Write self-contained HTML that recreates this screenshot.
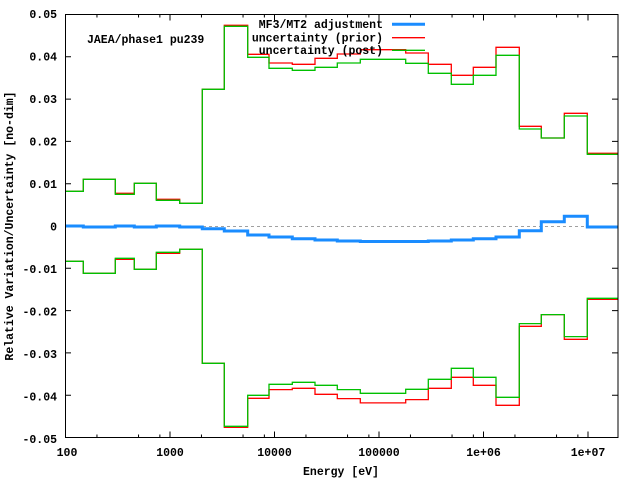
<!DOCTYPE html>
<html><head><meta charset="utf-8"><style>
html,body{margin:0;padding:0;background:#fff;}
svg{display:block;}
text{font-family:"Liberation Mono",monospace;font-weight:bold;font-size:11.5px;fill:#000;}
</style></head><body>
<svg id="s" width="640" height="480" xmlns="http://www.w3.org/2000/svg">
<rect width="640" height="480" fill="#fff"/>
<line x1="65" y1="226.5" x2="618" y2="226.5" stroke="#a0a0a0" stroke-dasharray="3,3" stroke-width="1"/>
<g id="ticks" stroke="#000" stroke-width="1"></g>
<g id="series" fill="none"></g>
<rect x="65.5" y="14.5" width="552.5" height="423" fill="none" stroke="#000" stroke-width="1"/>
<g text-anchor="end">
<text x="57" y="18">0.05</text>
<text x="57" y="60.5">0.04</text>
<text x="57" y="103">0.03</text>
<text x="57" y="145.5">0.02</text>
<text x="57" y="188">0.01</text>
<text x="57" y="230.5">0</text>
<text x="57" y="273">-0.01</text>
<text x="57" y="315.5">-0.02</text>
<text x="57" y="358">-0.03</text>
<text x="57" y="400.5">-0.04</text>
<text x="57" y="443">-0.05</text>
</g>
<g text-anchor="middle">
<text x="67" y="456">100</text>
<text x="170" y="456">1000</text>
<text x="274.5" y="456">10000</text>
<text x="379" y="456">100000</text>
<text x="483.5" y="456">1e+06</text>
<text x="588" y="456">1e+07</text>
<text x="341" y="475">Energy [eV]</text>
<text transform="translate(13,226) rotate(-90)">Relative Variation/Uncertainty [no-dim]</text>
</g>
<text x="87" y="43">JAEA/phase1 pu239</text>
<g text-anchor="end">
<text x="383" y="28">MF3/MT2 adjustment</text>
<text x="383" y="41.5">uncertainty (prior)</text>
<text x="383" y="54">uncertainty (post)</text>
</g>
<line x1="392" y1="24.3" x2="425" y2="24.3" stroke="#1a8cff" stroke-width="3"/>
<line x1="392" y1="37.7" x2="425" y2="37.7" stroke="#ff0000" stroke-width="1.3"/>
<line x1="392" y1="50.3" x2="425" y2="50.3" stroke="#00c000" stroke-width="1.3"/>
</svg>
<script>
var E=[65.7,83.3,115.3,134.3,156.3,179.7,202.3,224.3,247.7,269,292.3,315,337.3,360.3,383,405.7,428.3,451.3,473.3,496,519.3,541.3,564.3,587.3,618];
var R=[191.3,179.3,193.3,183.3,199.3,203.3,89.3,25.3,54.3,63,64.3,58.3,54,49.7,49.7,53,64.3,75.3,67.3,47.3,126.3,138,113.3,153.3];
var G=[191.3,179.3,194.3,183.3,200.3,203.3,89.3,26.3,57.3,68.3,70.3,67.3,63,59.3,59.3,63.3,73.3,84.3,75.3,55.3,129,138,116,154.3];
var B=[226,227,226,227,226,227,228.7,231,235,237,238.7,240,241,241.5,241.5,241.5,241,240,238.7,237,230.7,221.7,216.3,227];
var Z=452.6;
function step(v,m){var d="";for(var i=0;i<v.length;i++){var y=m?Z-v[i]:v[i];d+=(i==0?"M":"L")+E[i]+","+y+"L"+E[i+1]+","+y;}return d;}
var ns="http://www.w3.org/2000/svg",g=document.getElementById("series");
function p(d,c,w){var e=document.createElementNS(ns,"path");e.setAttribute("d",d);e.setAttribute("stroke",c);e.setAttribute("stroke-width",w);e.setAttribute("fill","none");g.appendChild(e);}
p(step(R,0),"#ff0000",1.3);p(step(R,1),"#ff0000",1.3);
p(step(G,0),"#00c000",1.3);p(step(G,1),"#00c000",1.3);
p(step(B,0),"#1a8cff",3);
var t=document.getElementById("ticks"),d="";
for(var k=0;k<=10;k++){var y=14.5+k*42.3;d+="M65,"+y+"h6M618,"+y+"h-6";}
var dec=104.5;
for(var k=0;k<=7;k++){var x0=65.5+k*dec;if(x0<=618){d+="M"+x0+",437.5v-6M"+x0+",14.5v6";}
[2,5,8].forEach(function(m){var x=x0+Math.log10(m)*dec;if(x<618)d+="M"+x+",437.5v-3M"+x+",14.5v3";});}
var e=document.createElementNS(ns,"path");e.setAttribute("d",d);t.appendChild(e);
</script>
</body></html>
